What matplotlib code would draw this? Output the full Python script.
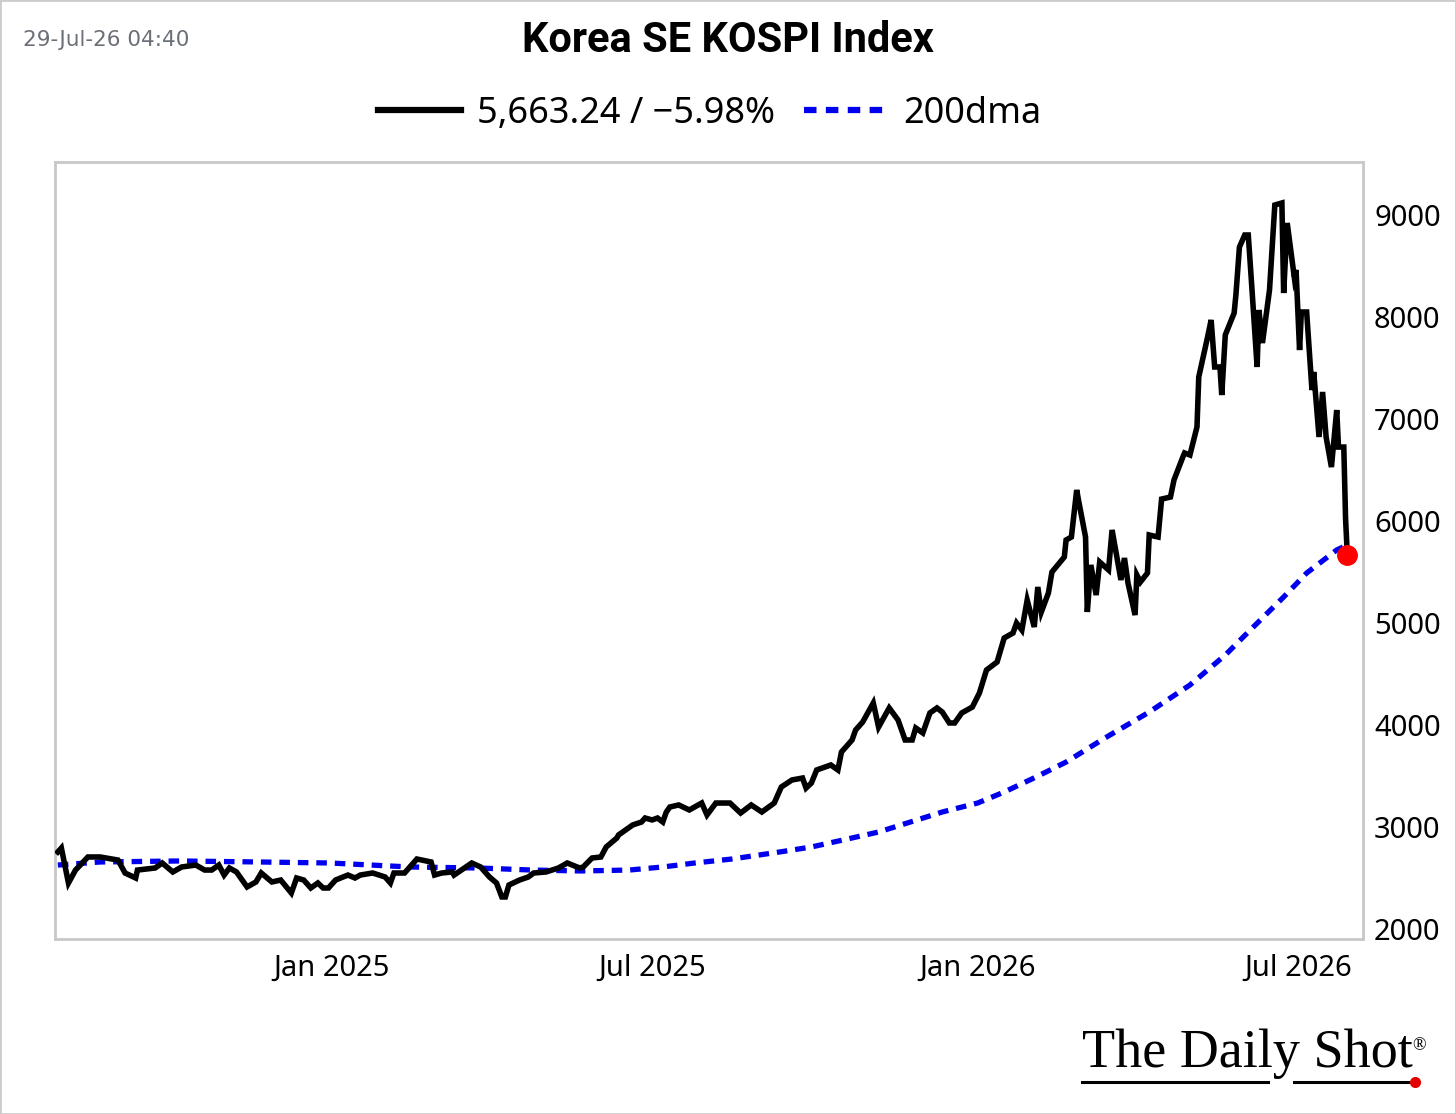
import matplotlib
matplotlib.use("Agg")
import matplotlib.pyplot as plt
import matplotlib.dates as mdates
from matplotlib.lines import Line2D
from matplotlib.patches import Rectangle
import pandas as pd

# KOSPI closes
px_dates = [
    "2024-07-30", "2024-08-01", "2024-08-05", "2024-08-09", "2024-08-16", "2024-08-23",
    "2024-09-02", "2024-09-06", "2024-09-12", "2024-09-13", "2024-09-23", "2024-09-27",
    "2024-10-03", "2024-10-08", "2024-10-16", "2024-10-21", "2024-10-25", "2024-10-29",
    "2024-11-01", "2024-11-04", "2024-11-08", "2024-11-14", "2024-11-19", "2024-11-22",
    "2024-11-28", "2024-12-03", "2024-12-09", "2024-12-12", "2024-12-16", "2024-12-20",
    "2024-12-24", "2024-12-27", "2024-12-30", "2025-01-03", "2025-01-10", "2025-01-14",
    "2025-01-17", "2025-01-24", "2025-01-31", "2025-02-03", "2025-02-05", "2025-02-11",
    "2025-02-14", "2025-02-18", "2025-02-26", "2025-02-28", "2025-03-04", "2025-03-10",
    "2025-03-11", "2025-03-21", "2025-03-26", "2025-03-31", "2025-04-04", "2025-04-07",
    "2025-04-09", "2025-04-11", "2025-04-17", "2025-04-22", "2025-04-25", "2025-05-02",
    "2025-05-09", "2025-05-14", "2025-05-21", "2025-05-23", "2025-05-28", "2025-06-02",
    "2025-06-05", "2025-06-11", "2025-06-12", "2025-06-20", "2025-06-25", "2025-06-27",
    "2025-07-01", "2025-07-04", "2025-07-07", "2025-07-09", "2025-07-11", "2025-07-16",
    "2025-07-22", "2025-07-29", "2025-08-01", "2025-08-06", "2025-08-14", "2025-08-20",
    "2025-08-26", "2025-09-01", "2025-09-08", "2025-09-12", "2025-09-18", "2025-09-24",
    "2025-09-26", "2025-09-29", "2025-10-02", "2025-10-10", "2025-10-14", "2025-10-16",
    "2025-10-22", "2025-10-24", "2025-10-28", "2025-11-03", "2025-11-06", "2025-11-12",
    "2025-11-17", "2025-11-19", "2025-11-21", "2025-11-25", "2025-11-27", "2025-12-01",
    "2025-12-05", "2025-12-09", "2025-12-12", "2025-12-16", "2025-12-19", "2025-12-23",
    "2025-12-29", "2026-01-02", "2026-01-06", "2026-01-12", "2026-01-16", "2026-01-21",
    "2026-01-23", "2026-01-26", "2026-01-29", "2026-02-02", "2026-02-04", "2026-02-06",
    "2026-02-10", "2026-02-12", "2026-02-19", "2026-02-20", "2026-02-23", "2026-02-26",
    "2026-02-27", "2026-03-03", "2026-03-04", "2026-03-06", "2026-03-09", "2026-03-11",
    "2026-03-16", "2026-03-18", "2026-03-23", "2026-03-25", "2026-03-27", "2026-03-31",
    "2026-04-01", "2026-04-03", "2026-04-07", "2026-04-08", "2026-04-13", "2026-04-15",
    "2026-04-20", "2026-04-22", "2026-04-27", "2026-04-28", "2026-05-01", "2026-05-05",
    "2026-05-06", "2026-05-11", "2026-05-13", "2026-05-15", "2026-05-18", "2026-05-19",
    "2026-05-21", "2026-05-26", "2026-05-27", "2026-05-29", "2026-06-01", "2026-06-03",
    "2026-06-05", "2026-06-08", "2026-06-09", "2026-06-11", "2026-06-15", "2026-06-18",
    "2026-06-22", "2026-06-23", "2026-06-25", "2026-06-29", "2026-06-30", "2026-07-02",
    "2026-07-03", "2026-07-06", "2026-07-09", "2026-07-10", "2026-07-13", "2026-07-15",
    "2026-07-17", "2026-07-20", "2026-07-23", "2026-07-24", "2026-07-27", "2026-07-28",
    "2026-07-29",
]
px_values = [
    2755, 2794, 2451, 2578, 2706, 2706,
    2676, 2549, 2500, 2578, 2598, 2647,
    2559, 2608, 2627, 2578, 2578, 2627,
    2529, 2598, 2559, 2412, 2461, 2549,
    2461, 2480, 2353, 2500, 2480, 2402,
    2451, 2402, 2402, 2480, 2529, 2500,
    2529, 2549, 2510, 2451, 2549, 2549,
    2608, 2686, 2657, 2529, 2549, 2559,
    2529, 2647, 2608, 2510, 2451, 2314,
    2314, 2431, 2480, 2510, 2549, 2559,
    2598, 2647, 2598, 2608, 2696, 2706,
    2804, 2892, 2922, 3020, 3049, 3088,
    3069, 3088, 3049, 3147, 3196, 3216,
    3167, 3235, 3118, 3235, 3235, 3137,
    3216, 3147, 3235, 3392, 3461, 3480,
    3382, 3431, 3559, 3608, 3559, 3735,
    3853, 3951, 4029, 4216, 3980, 4167,
    4049, 3951, 3853, 3853, 3971, 3922,
    4118, 4167, 4127, 4020, 4020, 4118,
    4176, 4314, 4539, 4618, 4853, 4902,
    5000, 4931, 5225, 4961, 5353, 5108,
    5294, 5500, 5647, 5814, 5843, 6304,
    6206, 5843, 5108, 5569, 5274, 5598,
    5520, 5912, 5422, 5637, 5392, 5078,
    5471, 5402, 5490, 5863, 5843, 6215,
    6235, 6402, 6627, 6667, 6647, 6922,
    7412, 7804, 7971, 7510, 7510, 7235,
    7824, 8039, 8216, 8686, 8804, 8804,
    8294, 7510, 8069, 7745, 8265, 9098,
    9118, 8235, 8922, 8392, 8461, 7676,
    8049, 8049, 7284, 7461, 6824, 7265,
    6824, 6529, 7088, 6725, 6725, 6023,
    5663.24,
]

# 200-day moving average
dma_dates = [
    "2024-07-30", "2024-08-23", "2024-10-07", "2024-11-21", "2024-12-31", "2025-02-14",
    "2025-03-25", "2025-04-24", "2025-05-22", "2025-06-18", "2025-07-07", "2025-07-25",
    "2025-08-15", "2025-09-11", "2025-09-29", "2025-10-17", "2025-11-06", "2025-11-24",
    "2025-12-12", "2026-01-01", "2026-01-16", "2026-02-03", "2026-02-20", "2026-03-14",
    "2026-04-08", "2026-05-01", "2026-05-21", "2026-06-03", "2026-06-23", "2026-07-06",
    "2026-07-23", "2026-07-29",
]
dma_values = [
    2627, 2657, 2667, 2657, 2647, 2608,
    2598, 2578, 2569, 2578, 2608, 2647,
    2686, 2755, 2804, 2873, 2951, 3049,
    3147, 3235, 3343, 3490, 3637, 3873,
    4127, 4392, 4686, 4912, 5255, 5490,
    5716, 5765,
]

legend_labels = ["5,663.24 / \u22125.98%", "200dma"]
title = "Korea SE KOSPI Index"
stamp = "29-Jul-26 04:40"

px = pd.Series(px_values, index=pd.to_datetime(px_dates))
dma = pd.Series(dma_values, index=pd.to_datetime(dma_dates))

sans = ["Noto Sans", "DejaVu Sans"]
serif = ["Liberation Serif", "DejaVu Serif"]
plt.rcParams["font.family"] = sans

fig = plt.figure(figsize=(14.56, 11.14), dpi=100)
ax = fig.add_axes([0.0378, 0.1571, 0.8983, 0.6975])

ax.plot(px.index, px.values, color="black", lw=4.0, solid_joinstyle="miter", zorder=3)
ax.plot(dma.index, dma.values, color="#0000ee", lw=3.8, linestyle=(0, (2, 1.5)), zorder=2)
ax.plot(px.index[-1], px.values[-1], "o", color="#ff0000", ms=14, zorder=4)

ax.set_xlim(pd.Timestamp("2024-07-28 10:00"), pd.Timestamp("2026-08-06 20:00"))
ax.set_ylim(1902, 9520)
ax.set_yticks([2000, 3000, 4000, 5000, 6000, 7000, 8000, 9000])
ax.yaxis.tick_right()
ax.xaxis.set_major_locator(mdates.MonthLocator(bymonth=[1, 7]))
ax.xaxis.set_major_formatter(mdates.DateFormatter("%b %Y"))
ax.tick_params(axis="both", length=0, labelsize=21, colors="black")
ax.tick_params(axis="y", pad=8)
ax.tick_params(axis="x", pad=11)
for s in ax.spines.values():
    s.set_color("#c8c8c8")
    s.set_linewidth(2)

fig.text(0.5, 0.9635, title, ha="center", va="center", fontsize=30, fontweight="bold",
         family=["Roboto", "DejaVu Sans"])
fig.text(0.016, 0.964, stamp, ha="left", va="center", fontsize=15.5, color="#6b6f78",
         family=["DejaVu Sans"])

handles = [Line2D([], [], color="black", lw=4.5),
           Line2D([], [], color="#0000ee", lw=4.5, linestyle=(0, (2, 1.5)))]
fig.legend(handles, legend_labels, loc="center", bbox_to_anchor=(0.4876, 0.898), ncol=2,
           frameon=False, fontsize=26, handlelength=2.3, handletextpad=0.45,
           columnspacing=0.8)

# logo
fig.text(0.743, 0.054, "The Daily Shot", ha="left", va="center", fontsize=39, family=serif)
fig.text(0.9745, 0.061, "\u00ae", ha="center", va="center", fontsize=13, family=serif)
fig.add_artist(Line2D([0.743, 0.871], [0.029, 0.029], color="black", lw=2.2))
fig.add_artist(Line2D([0.889, 0.972], [0.029, 0.029], color="black", lw=2.2))
fig.add_artist(Line2D([0.972], [0.029], marker="o", color="#e00000", ms=7))

fig.patches.append(Rectangle((0, 0), 1, 1, transform=fig.transFigure, fill=False,
                             edgecolor="#cccccc", lw=2))

fig.savefig("out.png", dpi=100, facecolor="white")
